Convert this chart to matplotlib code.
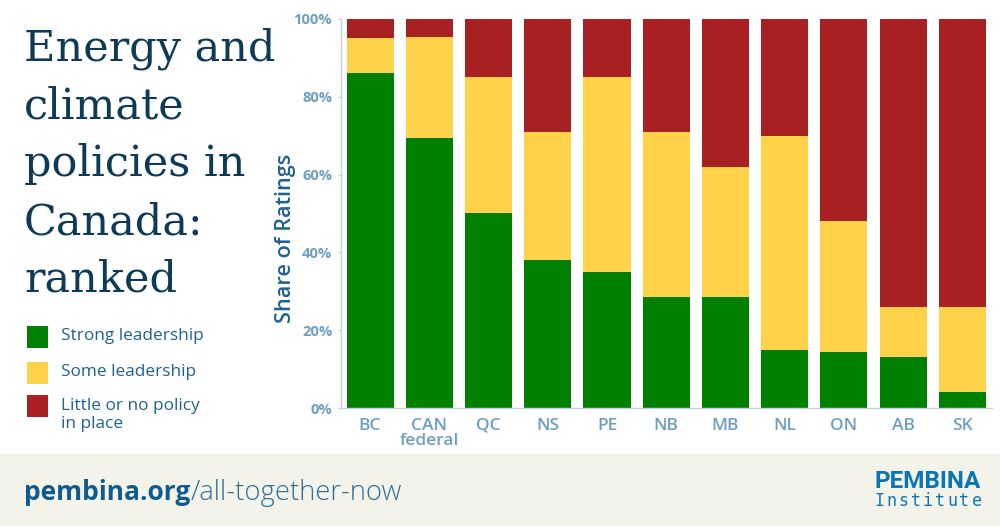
import matplotlib
matplotlib.use("Agg")
import matplotlib.pyplot as plt
from matplotlib.patches import Rectangle

# Values
regions = ["BC", "CAN\nfederal", "QC", "NS", "PE", "NB", "MB", "NL", "ON", "AB", "SK"]
strong = [86, 69.5, 50, 38, 35, 28.5, 28.5, 15, 14.5, 13, 4]
some = [9, 26, 35, 33, 50, 42.5, 33.5, 55, 33.5, 13, 22]
little = [5, 4.5, 15, 29, 15, 29, 38, 30, 52, 74, 74]
y_ticks = [0, 20, 40, 60, 80, 100]
title_lines = ["Energy and", "climate", "policies in", "Canada:", "ranked"]
legend_labels = ["Strong leadership", "Some leadership", "Little or no policy\nin place"]

GREEN = "#008000"
YELLOW = "#ffd24a"
RED = "#a92023"
NAVY = "#0e3a56"
BLUE = "#1f6390"
TICK = "#6f9fc0"

plt.rcParams["font.family"] = ["Open Sans", "DejaVu Sans"]

W, H = 1000, 526
fig = plt.figure(figsize=(10, 5.26), dpi=100)


def px(x, y):
    # pixel position to figure fraction, y measured from the top
    return x / W, 1 - y / H


# footer band
fig.add_artist(Rectangle((0, 0), 1, 1 - 454 / H, transform=fig.transFigure,
                         facecolor="#f3f3e9", edgecolor="none"))

# chart
ax = fig.add_axes([340.5 / W, 1 - 408 / H, (992 - 340.5) / W, (408 - 19) / H])
x = list(range(len(regions)))
bottom2 = [a + b for a, b in zip(strong, some)]
ax.bar(x, strong, width=0.795, color=GREEN)
ax.bar(x, some, width=0.795, bottom=strong, color=YELLOW)
ax.bar(x, little, width=0.795, bottom=bottom2, color=RED)

ax.set_xlim(-0.5, 10.5)
ax.set_ylim(0, 100)
ax.set_xticks(x)
ax.set_xticklabels(regions, fontsize=12.5, color=TICK, fontweight="semibold", linespacing=0.9)
ax.set_yticks(y_ticks)
ax.set_yticklabels([f"{v}%" for v in y_ticks], fontsize=10.6, color=TICK, fontweight="bold")
ax.tick_params(axis="x", length=0, pad=7)
ax.tick_params(axis="y", length=2, width=1, color="#c4d3db", pad=4)
for s in ["top", "right"]:
    ax.spines[s].set_visible(False)
for s in ["left", "bottom"]:
    ax.spines[s].set_color("#c4d3db")
    ax.spines[s].set_linewidth(1)

fig.text(*px(285, 238), "Share of Ratings", rotation=90, ha="center", va="center",
         fontsize=15.6, color=BLUE, fontweight="semibold")

# title
for i, line in enumerate(title_lines):
    fig.text(*px(24, 61 + i * 57.7), line, ha="left", va="baseline",
             fontsize=31, family="DejaVu Serif", color=NAVY)

# legend
for label, color, y_top, y_text in zip(legend_labels, [GREEN, YELLOW, RED],
                                       [326, 362, 395], [336, 372, 415]):
    fig.add_artist(Rectangle(px(27, y_top + 22), 21 / W, 22 / H, transform=fig.transFigure,
                             facecolor=color, edgecolor="none"))
    fig.text(*px(61, y_text), label, ha="left", va="center", fontsize=12.4,
             color=BLUE, linespacing=1.15)

# footer text
t = fig.text(*px(24, 493), "pembina.org", ha="left", va="center", fontsize=19,
             color="#0f5c8c", fontweight="bold")
fig.canvas.draw()
end = t.get_window_extent().x1
fig.text(*px(end, 493), "/all-together-now", ha="left", va="center", fontsize=19.7,
         color="#2f6f96", fontweight="light")

fig.text(*px(928, 481), "PEMBINA", ha="center", va="center", fontsize=17.5,
         color="#0a76b4", fontweight="bold", family="Roboto")
for i, ch in enumerate("Institute"):
    fig.text(*px(879 + i * 12.2, 501.5), ch, ha="center", va="center", fontsize=12,
             color="#0a76b4", family="DejaVu Sans Mono")

fig.savefig("out.png", dpi=100)
